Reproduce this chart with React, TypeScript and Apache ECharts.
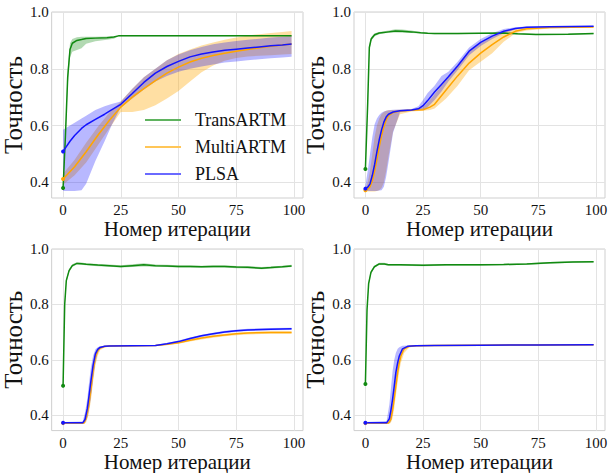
import React, { useEffect, useRef } from "react";
import * as echarts from "echarts";

// ---------- Panel 1 (top-left) ----------
const p1GreenX = [0, 1, 2, 3, 4, 6, 8, 10, 14, 19, 22, 24, 40, 60, 80, 99];
const p1GreenMean = [0.38, 0.56, 0.77, 0.868, 0.89, 0.9, 0.903, 0.907, 0.908, 0.909, 0.912, 0.916, 0.916, 0.916, 0.916, 0.916];
const p1GreenLo = [0.38, 0.54, 0.74, 0.84, 0.86, 0.866, 0.872, 0.888, 0.897, 0.902, 0.906, 0.915, 0.915, 0.915, 0.915, 0.915];
const p1GreenHi = [0.38, 0.58, 0.8, 0.89, 0.905, 0.911, 0.913, 0.913, 0.913, 0.914, 0.915, 0.917, 0.917, 0.917, 0.917, 0.917];

const p1OrangeX = [0, 5, 10, 15, 20, 25, 30, 35, 40, 45, 50, 55, 60, 65, 70, 75, 80, 85, 90, 95, 99];
const p1OrangeMean = [0.412, 0.455, 0.508, 0.565, 0.618, 0.665, 0.7, 0.73, 0.758, 0.785, 0.806, 0.824, 0.837, 0.847, 0.855, 0.862, 0.868, 0.874, 0.879, 0.884, 0.887];
const p1OrangeLo = [0.392, 0.425, 0.47, 0.53, 0.59, 0.648, 0.648, 0.655, 0.672, 0.695, 0.722, 0.755, 0.788, 0.812, 0.828, 0.838, 0.843, 0.846, 0.848, 0.85, 0.852];
const p1OrangeHi = [0.43, 0.48, 0.54, 0.595, 0.645, 0.685, 0.73, 0.77, 0.8, 0.83, 0.852, 0.868, 0.882, 0.893, 0.902, 0.91, 0.917, 0.922, 0.926, 0.93, 0.933];

const p1BlueX = [0, 3, 5, 8, 10, 14, 18, 21, 25, 30, 35, 40, 45, 50, 55, 60, 65, 70, 75, 80, 85, 90, 95, 99];
const p1BlueMean = [0.509, 0.545, 0.565, 0.59, 0.603, 0.622, 0.64, 0.655, 0.675, 0.713, 0.752, 0.785, 0.808, 0.826, 0.842, 0.852, 0.859, 0.865, 0.869, 0.873, 0.877, 0.881, 0.884, 0.887];
const p1BlueLo = [0.37, 0.37, 0.37, 0.372, 0.395, 0.475, 0.545, 0.6, 0.665, 0.695, 0.727, 0.755, 0.775, 0.79, 0.8, 0.808, 0.815, 0.822, 0.826, 0.83, 0.834, 0.837, 0.84, 0.842];
const p1BlueHi = [0.585, 0.6, 0.61, 0.625, 0.635, 0.655, 0.668, 0.676, 0.685, 0.73, 0.77, 0.8, 0.83, 0.85, 0.865, 0.877, 0.886, 0.893, 0.898, 0.902, 0.906, 0.91, 0.913, 0.915];

// ---------- Panel 2 (top-right) ----------
const p2GreenX = [0, 1, 1.7, 2.5, 4, 6, 8, 10, 13, 16, 20, 24, 27, 30, 40, 50, 60, 66, 74, 88, 99];
const p2GreenMean = [0.447, 0.68, 0.875, 0.905, 0.92, 0.926, 0.928, 0.93, 0.933, 0.932, 0.93, 0.927, 0.925, 0.924, 0.924, 0.925, 0.926, 0.923, 0.921, 0.922, 0.924];
const p2GreenLo = [0.447, 0.67, 0.865, 0.898, 0.915, 0.922, 0.925, 0.926, 0.928, 0.927, 0.926, 0.924, 0.923, 0.922, 0.922, 0.923, 0.924, 0.921, 0.919, 0.92, 0.922];
const p2GreenHi = [0.447, 0.69, 0.885, 0.912, 0.925, 0.93, 0.932, 0.935, 0.939, 0.938, 0.935, 0.93, 0.927, 0.926, 0.926, 0.927, 0.928, 0.925, 0.923, 0.924, 0.926];

const p2OrangeX = [0, 1, 2, 3, 4, 5, 6, 7, 8, 9, 10, 12, 15, 20, 25, 28, 30, 35, 40, 45, 50, 55, 60, 65, 70, 80, 99];
const p2OrangeMean = [0.372, 0.376, 0.385, 0.405, 0.44, 0.48, 0.525, 0.565, 0.595, 0.62, 0.635, 0.646, 0.651, 0.654, 0.656, 0.665, 0.675, 0.725, 0.775, 0.82, 0.855, 0.885, 0.912, 0.932, 0.941, 0.945, 0.947];
const p2OrangeLo = [0.368, 0.368, 0.368, 0.368, 0.368, 0.37, 0.372, 0.38, 0.4, 0.44, 0.49, 0.58, 0.64, 0.65, 0.652, 0.655, 0.66, 0.695, 0.74, 0.795, 0.825, 0.855, 0.895, 0.925, 0.935, 0.942, 0.945];
const p2OrangeHi = [0.38, 0.4, 0.44, 0.5, 0.56, 0.6, 0.625, 0.64, 0.648, 0.652, 0.654, 0.655, 0.656, 0.657, 0.665, 0.69, 0.71, 0.76, 0.81, 0.86, 0.89, 0.912, 0.932, 0.942, 0.946, 0.948, 0.949];

const p2BlueX = [0, 1, 2, 3, 4, 5, 6, 7, 8, 9, 10, 12, 15, 20, 23, 25, 27, 30, 33, 36, 40, 45, 50, 55, 60, 65, 70, 80, 99];
const p2BlueMean = [0.378, 0.383, 0.395, 0.425, 0.463, 0.508, 0.55, 0.585, 0.612, 0.63, 0.64, 0.648, 0.652, 0.655, 0.659, 0.67, 0.688, 0.718, 0.745, 0.772, 0.81, 0.862, 0.893, 0.915, 0.932, 0.942, 0.946, 0.948, 0.95];
const p2BlueLo = [0.37, 0.37, 0.37, 0.37, 0.37, 0.37, 0.371, 0.372, 0.385, 0.42, 0.47, 0.575, 0.647, 0.652, 0.655, 0.655, 0.665, 0.69, 0.72, 0.755, 0.795, 0.848, 0.88, 0.905, 0.925, 0.938, 0.944, 0.947, 0.949];
const p2BlueHi = [0.39, 0.44, 0.5, 0.56, 0.605, 0.625, 0.637, 0.645, 0.65, 0.652, 0.654, 0.656, 0.657, 0.658, 0.668, 0.69, 0.715, 0.74, 0.775, 0.79, 0.825, 0.875, 0.905, 0.925, 0.94, 0.946, 0.949, 0.95, 0.951];

// ---------- Panel 3 (bottom-left) ----------
const p3GreenX = [0, 0.7, 1.4, 2.6, 4, 6, 8, 10, 15, 20, 25, 30, 35, 40, 45, 50, 55, 60, 65, 70, 75, 80, 86, 90, 95, 99];
const p3GreenMean = [0.507, 0.8, 0.886, 0.922, 0.94, 0.948, 0.947, 0.945, 0.942, 0.94, 0.937, 0.94, 0.943, 0.94, 0.939, 0.937, 0.937, 0.936, 0.937, 0.937, 0.935, 0.934, 0.931, 0.933, 0.936, 0.939];
const p3GreenLo = [0.507, 0.79, 0.878, 0.916, 0.935, 0.944, 0.943, 0.941, 0.938, 0.936, 0.933, 0.935, 0.937, 0.936, 0.935, 0.933, 0.933, 0.932, 0.933, 0.933, 0.931, 0.93, 0.927, 0.929, 0.932, 0.935];
const p3GreenHi = [0.507, 0.81, 0.894, 0.928, 0.945, 0.952, 0.951, 0.949, 0.946, 0.944, 0.941, 0.945, 0.949, 0.944, 0.943, 0.941, 0.941, 0.94, 0.941, 0.941, 0.939, 0.938, 0.935, 0.937, 0.94, 0.943];

const p3OrangeX = [0, 9, 10, 11, 12, 13, 14, 15, 16, 18, 20, 30, 40, 45, 50, 55, 60, 65, 70, 75, 80, 90, 99];
const p3OrangeMean = [0.372, 0.372, 0.39, 0.43, 0.49, 0.56, 0.61, 0.633, 0.643, 0.648, 0.65, 0.651, 0.652, 0.656, 0.662, 0.671, 0.679, 0.685, 0.69, 0.694, 0.697, 0.699, 0.699];
const p3OrangeLo = [0.369, 0.369, 0.375, 0.4, 0.45, 0.52, 0.58, 0.615, 0.635, 0.645, 0.648, 0.649, 0.65, 0.653, 0.658, 0.666, 0.674, 0.68, 0.685, 0.689, 0.692, 0.694, 0.694];
const p3OrangeHi = [0.375, 0.376, 0.41, 0.46, 0.53, 0.59, 0.628, 0.642, 0.648, 0.65, 0.652, 0.653, 0.654, 0.659, 0.666, 0.675, 0.683, 0.689, 0.694, 0.698, 0.701, 0.703, 0.703];

const p3BlueX = [0, 8.5, 9.5, 10.5, 11, 12, 13, 14, 15, 16, 18, 20, 30, 40, 45, 50, 55, 60, 65, 70, 75, 80, 90, 99];
const p3BlueMean = [0.373, 0.373, 0.385, 0.424, 0.455, 0.52, 0.58, 0.622, 0.638, 0.645, 0.649, 0.65, 0.651, 0.652, 0.658, 0.666, 0.677, 0.687, 0.694, 0.701, 0.705, 0.708, 0.711, 0.712];
const p3BlueLo = [0.37, 0.37, 0.372, 0.39, 0.41, 0.46, 0.53, 0.59, 0.625, 0.64, 0.647, 0.649, 0.65, 0.65, 0.655, 0.662, 0.673, 0.683, 0.69, 0.697, 0.701, 0.704, 0.707, 0.708];
const p3BlueHi = [0.376, 0.378, 0.41, 0.46, 0.5, 0.57, 0.615, 0.638, 0.646, 0.649, 0.651, 0.652, 0.652, 0.654, 0.661, 0.67, 0.681, 0.691, 0.698, 0.705, 0.709, 0.712, 0.715, 0.716];

// ---------- Panel 4 (bottom-right) ----------
const p4GreenX = [0, 0.7, 1.4, 2.4, 3.9, 6, 8.2, 10, 15, 20, 25, 30, 35, 40, 50, 60, 70, 80, 90, 99];
const p4GreenMean = [0.513, 0.78, 0.875, 0.916, 0.936, 0.946, 0.946, 0.943, 0.943, 0.942, 0.941, 0.942, 0.943, 0.943, 0.943, 0.944, 0.946, 0.95, 0.953, 0.954];
const p4GreenLo = [0.513, 0.77, 0.868, 0.91, 0.932, 0.942, 0.942, 0.94, 0.94, 0.939, 0.938, 0.939, 0.94, 0.94, 0.94, 0.941, 0.943, 0.947, 0.95, 0.951];
const p4GreenHi = [0.513, 0.79, 0.882, 0.922, 0.94, 0.95, 0.95, 0.946, 0.946, 0.945, 0.944, 0.945, 0.946, 0.946, 0.946, 0.947, 0.949, 0.953, 0.956, 0.957];

const p4OrangeX = [0, 10, 11, 11.8, 12.5, 13.2, 14, 14.7, 15.4, 16.8, 19, 22, 30, 50, 75, 99];
const p4OrangeMean = [0.372, 0.372, 0.385, 0.42, 0.46, 0.505, 0.555, 0.59, 0.614, 0.64, 0.649, 0.651, 0.652, 0.653, 0.654, 0.655];
const p4OrangeLo = [0.369, 0.369, 0.372, 0.39, 0.425, 0.47, 0.52, 0.56, 0.59, 0.625, 0.645, 0.649, 0.651, 0.652, 0.653, 0.654];
const p4OrangeHi = [0.375, 0.376, 0.4, 0.44, 0.49, 0.535, 0.58, 0.61, 0.63, 0.645, 0.65, 0.652, 0.653, 0.654, 0.655, 0.656];

const p4BlueX = [0, 9.2, 10.4, 11.1, 11.8, 12.5, 13.2, 14, 14.7, 16.1, 18.3, 22, 30, 50, 75, 99];
const p4BlueMean = [0.373, 0.373, 0.388, 0.42, 0.459, 0.505, 0.554, 0.59, 0.614, 0.64, 0.649, 0.651, 0.652, 0.653, 0.654, 0.655];
const p4BlueLo = [0.37, 0.37, 0.372, 0.38, 0.41, 0.455, 0.51, 0.56, 0.595, 0.632, 0.646, 0.649, 0.65, 0.651, 0.652, 0.653];
const p4BlueHi = [0.376, 0.38, 0.44, 0.5, 0.56, 0.6, 0.625, 0.64, 0.646, 0.651, 0.652, 0.653, 0.654, 0.655, 0.656, 0.657];

// ---------- labels ----------
const seriesNames = ["TransARTM", "MultiARTM", "PLSA"];
const xTicks = [0, 25, 50, 75, 100];
const yTicks = [0.4, 0.6, 0.8, 1.0];
const xTitle = "Номер итерации";
const yTitle = "Точность";

const FONT = "Liberation Serif";
const LINE_COLORS = ["#118a11", "#ffa500", "#1414ff"];
const BAND_COLORS = ["rgba(0,128,0,0.30)", "rgba(255,165,0,0.36)", "rgba(0,0,255,0.28)"];
const LEGEND_COLORS = ["#5fb35f", "#ffc658", "#6a6aff"];

const panels = [
  [
    [p1GreenX, p1GreenMean, p1GreenLo, p1GreenHi],
    [p1OrangeX, p1OrangeMean, p1OrangeLo, p1OrangeHi],
    [p1BlueX, p1BlueMean, p1BlueLo, p1BlueHi],
  ],
  [
    [p2GreenX, p2GreenMean, p2GreenLo, p2GreenHi],
    [p2OrangeX, p2OrangeMean, p2OrangeLo, p2OrangeHi],
    [p2BlueX, p2BlueMean, p2BlueLo, p2BlueHi],
  ],
  [
    [p3GreenX, p3GreenMean, p3GreenLo, p3GreenHi],
    [p3OrangeX, p3OrangeMean, p3OrangeLo, p3OrangeHi],
    [p3BlueX, p3BlueMean, p3BlueLo, p3BlueHi],
  ],
  [
    [p4GreenX, p4GreenMean, p4GreenLo, p4GreenHi],
    [p4OrangeX, p4OrangeMean, p4OrangeLo, p4OrangeHi],
    [p4BlueX, p4BlueMean, p4BlueLo, p4BlueHi],
  ],
];

const gridBoxes = [
  { left: 50, top: 12, width: 253, height: 186 },
  { left: 354, top: 12, width: 251, height: 186 },
  { left: 50, top: 249, width: 253, height: 186 },
  { left: 354, top: 249, width: 251, height: 186 },
];

function buildOption() {
  const grid = gridBoxes.map((g) => ({
    ...g,
    show: true,
    borderColor: "#cfcfcf",
    borderWidth: 1,
    backgroundColor: "transparent",
    containLabel: false,
  }));
  const xAxis = gridBoxes.map((_, i) => ({
    type: "value",
    gridIndex: i,
    min: -4.95,
    max: 103.95,
    axisLine: { show: false },
    axisTick: { show: false, customValues: xTicks },
    axisLabel: {
      customValues: xTicks,
      fontFamily: FONT,
      fontSize: 15,
      lineHeight: 14,
      color: "#111",
      margin: 5,
      formatter: (v: number) => String(Math.round(v)),
    },
    splitLine: { show: true, lineStyle: { color: "#e3e3e3", width: 1 } },
    name: xTitle,
    nameLocation: "middle",
    nameGap: 19,
    nameTextStyle: { fontFamily: FONT, fontSize: 21, lineHeight: 20, color: "#111" },
  }));
  const yAxis = gridBoxes.map((_, i) => ({
    type: "value",
    gridIndex: i,
    min: 0.345,
    max: 1.0,
    axisLine: { show: false },
    axisTick: { show: false, customValues: yTicks },
    axisLabel: {
      customValues: yTicks,
      fontFamily: FONT,
      fontSize: 15,
      color: "#111",
      margin: 3,
      formatter: (v: number) => v.toFixed(1),
    },
    splitLine: { show: true, lineStyle: { color: "#e3e3e3", width: 1 } },
    name: yTitle,
    nameLocation: "middle",
    nameGap: 22,
    nameTextStyle: { fontFamily: FONT, fontSize: 25, color: "#111" },
  }));

  const series: any[] = [];
  panels.forEach((panel, gi) => {
    panel.forEach(([xs, mean, lo, hi], si) => {
      series.push({
        type: "line",
        name: seriesNames[si],
        xAxisIndex: gi,
        yAxisIndex: gi,
        data: xs.map((x, k) => [x, mean[k]]),
        showSymbol: true,
        symbol: "circle",
        symbolSize: (_v: any, p: any) => (p.dataIndex === 0 ? 4 : 0),
        lineStyle: { color: LINE_COLORS[si], width: 1.5 },
        itemStyle: { color: LINE_COLORS[si] },
        silent: true,
        z: 2,
      });
      series.push({
        type: "custom",
        name: seriesNames[si] + " band",
        xAxisIndex: gi,
        yAxisIndex: gi,
        silent: true,
        z: 2,
        data: xs.map((x, k) => [x, lo[k], hi[k]]),
        encode: { x: 0, y: [1, 2] },
        renderItem: (params: any, api: any) => {
          if (params.dataIndex !== 0) return null;
          const top = xs.map((x, k) => api.coord([x, hi[k]]));
          const bot = xs.map((x, k) => api.coord([x, lo[k]])).reverse();
          return {
            type: "polygon",
            shape: { points: top.concat(bot) },
            style: { fill: BAND_COLORS[si], stroke: "none" },
          };
        },
      });
    });
  });

  return {
    animation: false,
    backgroundColor: "#ffffff",
    textStyle: { fontFamily: FONT },
    grid,
    xAxis,
    yAxis,
    legend: {
      show: true,
      orient: "vertical",
      left: 140,
      top: 106,
      icon: "rect",
      itemWidth: 36,
      itemHeight: 2,
      itemGap: 9,
      selectedMode: false,
      textStyle: { fontFamily: FONT, fontSize: 18, color: "#111", padding: [0, 0, 0, 9] },
      data: seriesNames.map((n, i) => ({ name: n, itemStyle: { color: LEGEND_COLORS[i] } })),
    },
    series,
  };
}

export default function App() {
  const ref = useRef<HTMLDivElement>(null);
  useEffect(() => {
    if (!ref.current) return;
    const chart = echarts.init(ref.current, undefined, { renderer: "svg" });
    chart.setOption(buildOption() as any);
    return () => chart.dispose();
  }, []);
  return (
    <div
      ref={ref}
      style={{ position: "absolute", left: 0, top: 0, width: 611, height: 473, background: "#fff" }}
    />
  );
}
